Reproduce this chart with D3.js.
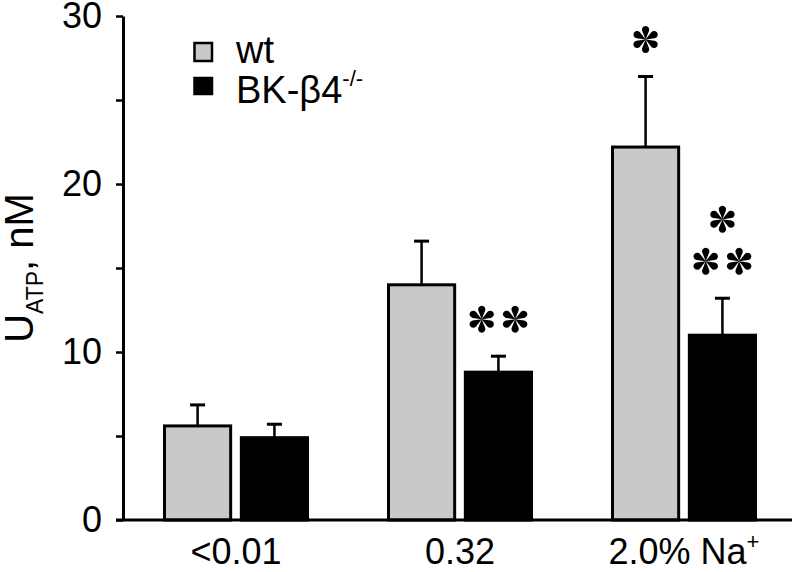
<!DOCTYPE html>
<html>
<head>
  <meta charset="UTF-8" />
  <script src="https://d3js.org/d3.v7.min.js"></script>
  <style>
    body { margin: 0; background: #fff; }
    svg { display: block; font-family: "Liberation Sans", Arial, sans-serif; }
  </style>
</head>
<body>
  <div id="chart"></div>
  <script>
    // data
    const categories = ["<0.01", "0.32", "2.0% Na"];
    const categorySup = ["", "", "+"];
    const seriesNames = ["wt", "BK-β4"];
    const seriesSup = ["", "-/-"];
    const wtMeans = [5.6, 14.0, 22.2];
    const wtSem   = [1.25, 2.6, 4.2];
    const bkMeans = [4.9, 8.8, 11.0];
    const bkSem   = [0.8, 0.95, 2.2];
    const yTicks  = [0, 5, 10, 15, 20, 25, 30];
    // significance stars: category index, series index, stars per row (bottom row first)
    const sigMarks = [
      { cat: 1, series: 1, rows: [2] },
      { cat: 2, series: 0, rows: [1] },
      { cat: 2, series: 1, rows: [2, 1] }
    ];

    const width = 792, height = 572;
    const colors = ["#c9c9c9", "#000000"];

    const svg = d3.select("#chart").append("svg")
      .attr("width", width)
      .attr("height", height);

    const y = d3.scaleLinear().domain([0, 30]).range([520, 16]);
    const x0 = d3.scalePoint().domain(categories).range([236, 684]);
    const x1 = d3.scaleBand().domain(seriesNames).range([-73, 73]).paddingInner(0.1);

    const rows = categories.map((c, i) => [
      { cat: c, series: seriesNames[0], mean: wtMeans[i], sem: wtSem[i], color: colors[0] },
      { cat: c, series: seriesNames[1], mean: bkMeans[i], sem: bkSem[i], color: colors[1] }
    ]).flat();

    const sw = 3;

    // bars
    svg.append("g").selectAll("rect")
      .data(rows)
      .enter().append("rect")
        .attr("x", d => x0(d.cat) + x1(d.series) + sw / 2)
        .attr("width", x1.bandwidth() - sw)
        .attr("y", d => y(d.mean))
        .attr("height", d => y(0) - y(d.mean))
        .attr("fill", d => d.color)
        .attr("stroke", "#000")
        .attr("stroke-width", sw);

    // error bars (upper only)
    const eb = svg.append("g").selectAll("g")
      .data(rows)
      .enter().append("g")
        .attr("transform", d => `translate(${x0(d.cat) + x1(d.series) + x1.bandwidth() / 2},0)`);
    eb.append("line")
      .attr("y1", d => y(d.mean))
      .attr("y2", d => y(d.mean + d.sem))
      .attr("stroke", "#000")
      .attr("stroke-width", 2.5);
    eb.append("line")
      .attr("x1", -7.5).attr("x2", 7.5)
      .attr("y1", d => y(d.mean + d.sem))
      .attr("y2", d => y(d.mean + d.sem))
      .attr("stroke", "#000")
      .attr("stroke-width", 3);

    // y axis
    const yAxis = d3.axisLeft(y)
      .tickValues(yTicks)
      .tickSize(7)
      .tickSizeOuter(0)
      .tickPadding(14)
      .tickFormat(d => d % 10 === 0 ? d : "");
    const gy = svg.append("g")
      .attr("transform", "translate(123,0)")
      .call(yAxis);
    gy.select(".domain").attr("stroke-width", 3);
    gy.selectAll(".tick line").attr("stroke-width", 2.5);
    gy.selectAll(".tick text")
      .attr("font-size", 36)
      .attr("font-family", "Liberation Sans, Arial, sans-serif")
      .attr("fill", "#000");

    // x axis line
    svg.append("line")
      .attr("x1", 116).attr("x2", width)
      .attr("y1", y(0)).attr("y2", y(0))
      .attr("stroke", "#000")
      .attr("stroke-width", 3);

    // x labels
    const xl = svg.append("g").selectAll("text")
      .data(categories)
      .enter().append("text")
        .attr("x", d => x0(d))
        .attr("y", 564)
        .attr("text-anchor", "middle")
        .attr("font-size", 36)
        .text(d => d);
    xl.append("tspan")
      .attr("font-size", 22)
      .attr("dy", -15)
      .text((d, i) => categorySup[i]);

    // y axis title
    const yt = svg.append("text")
      .attr("transform", "translate(33,268) rotate(-90)")
      .attr("text-anchor", "middle")
      .attr("font-size", 40);
    yt.append("tspan").text("U");
    yt.append("tspan").attr("font-size", 23).attr("dy", 10).text("ATP");
    yt.append("tspan").attr("dy", -10).text(", nM");

    // legend
    const legend = svg.append("g");
    const legendY = [43, 78];
    const legendH = [18, 16];
    seriesNames.forEach((s, i) => {
      legend.append("rect")
        .attr("x", 194.5).attr("y", legendY[i])
        .attr("width", 17.5).attr("height", legendH[i])
        .attr("fill", colors[i])
        .attr("stroke", "#000")
        .attr("stroke-width", 2.5);
      const t = legend.append("text")
        .attr("x", 236)
        .attr("y", [62.5, 102.5][i])
        .attr("font-size", 38)
        .text(s);
      if (seriesSup[i]) {
        t.append("tspan").attr("font-size", 22).attr("dy", -17).text(seriesSup[i]);
      }
    });

    // asterisk with teardrop petals
    function starPath(r) {
      const p = d3.path();
      const a = r * 0.27, dd = r - a;
      const phi = Math.asin(a / dd), L = Math.sqrt(dd * dd - a * a);
      for (let k = 0; k < 6; k++) {
        const th = Math.PI / 6 + k * Math.PI / 3;
        p.moveTo(0, 0);
        p.lineTo(L * Math.cos(th - phi), L * Math.sin(th - phi));
        p.arc(dd * Math.cos(th), dd * Math.sin(th), a, th - Math.PI / 2 - phi, th + Math.PI / 2 + phi);
        p.closePath();
      }
      return p.toString();
    }
    const star = starPath(13.5);

    const sg = svg.append("g");
    sigMarks.forEach(m => {
      const cat = categories[m.cat], ser = seriesNames[m.series];
      const top = m.series === 0 ? wtMeans[m.cat] + wtSem[m.cat] : bkMeans[m.cat] + bkSem[m.cat];
      const cx = x0(cat) + x1(ser) + x1.bandwidth() / 2;
      m.rows.forEach((n, r) => {
        const cy = y(top) - 37 - r * 42;
        for (let j = 0; j < n; j++) {
          const dx = n === 1 ? 0 : (j === 0 ? -16.7 : 16.7);
          sg.append("path")
            .attr("d", star)
            .attr("transform", `translate(${cx + dx},${cy})`)
            .attr("fill", "#000");
        }
      });
    });
  </script>
</body>
</html>
